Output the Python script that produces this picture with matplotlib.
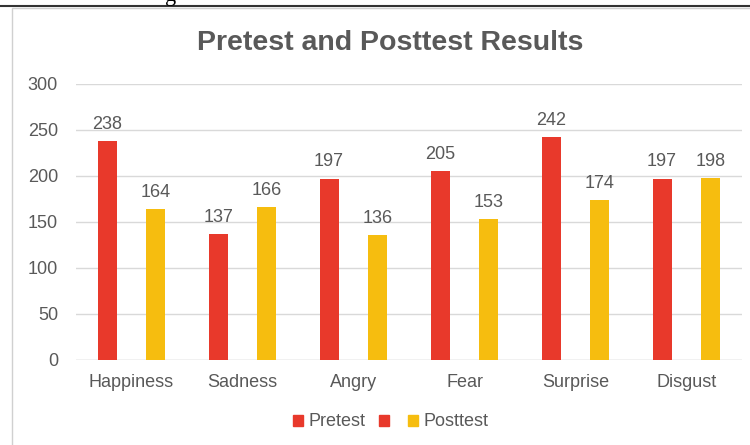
import matplotlib
matplotlib.use("Agg")
import matplotlib.pyplot as plt
from matplotlib.lines import Line2D
from matplotlib.patches import Rectangle, Patch
import numpy as np

categories = ["Happiness", "Sadness", "Angry", "Fear", "Surprise", "Disgust"]
pretest = [238, 137, 197, 205, 242, 197]
posttest = [164, 166, 136, 153, 174, 198]
yticks = [0, 50, 100, 150, 200, 250, 300]

red = "#E8392B"
yellow = "#F6BD0F"
grey = "#595959"

plt.rcParams['font.family'] = ['Liberation Sans', 'DejaVu Sans']

fig = plt.figure(figsize=(7.5, 4.45), dpi=100)

# page bits around the chart: rule line, caption descender, chart frame
fig.add_artist(Line2D([0, 1], [1 - 6 / 445, 1 - 6 / 445], color="#333333", lw=1.5))
fig.text(165 / 750, 1 - 1 / 445, "g", ha="left", va="baseline", fontsize=16,
         family="Liberation Serif", color="black")
fig.add_artist(Rectangle((12 / 750, -0.02), 1.0, 1 - 8 / 445 + 0.02,
                         fill=False, edgecolor="#d0d0d0", lw=1))

ax = fig.add_axes([76 / 750, 1 - 360 / 445, 666 / 750, 276 / 445])

x = np.arange(len(categories))
w = 0.17
b1 = ax.bar(x - 0.22, pretest, w, color=red, zorder=3)
b2 = ax.bar(x + 0.22, posttest, w, color=yellow, zorder=3)

for bars in (b1, b2):
    for r in bars:
        ax.annotate(str(int(r.get_height())), (r.get_x() + r.get_width() / 2, r.get_height()),
                    xytext=(0, 6), textcoords="offset points",
                    ha="center", va="bottom", fontsize=13, color=grey)

ax.set_xlim(-0.5, len(categories) - 0.5)
ax.set_ylim(0, 300)
ax.set_yticks(yticks)
ax.set_xticks(x)
ax.set_xticklabels(categories)
ax.tick_params(axis="both", length=0, labelsize=13, labelcolor=grey)
ax.tick_params(axis="y", pad=13)
ax.tick_params(axis="x", pad=10)
ax.grid(axis="y", color="#d9d9d9", lw=1, zorder=0)
for s in ax.spines.values():
    s.set_visible(False)
ax.axhline(0, color="#d9d9d9", lw=1, zorder=1)

fig.text(390 / 750, 1 - 43 / 445, "Pretest and Posttest Results", ha="center", va="center",
         fontsize=20.5, fontweight="bold", color=grey)

handles = [Patch(color=red), Patch(color=red), Patch(color=yellow)]
fig.legend(handles, ["Pretest", "", "Posttest"], loc="center", bbox_to_anchor=(391 / 750, 1 - 422 / 445),
           ncol=3, frameon=False, fontsize=13, labelcolor=grey, handlelength=0.55,
           handleheight=0.55, handletextpad=0.3, columnspacing=0.75)

fig.savefig("out.png", dpi=100)
